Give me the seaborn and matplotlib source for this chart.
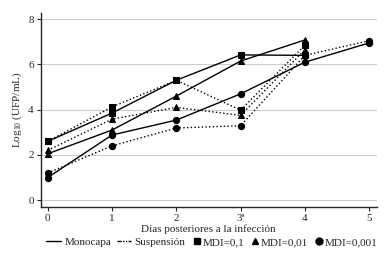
import matplotlib
matplotlib.use("Agg")
import matplotlib.pyplot as plt
from matplotlib.lines import Line2D
import seaborn as sns
import pandas as pd

days = [0, 1, 2, 3, 4, 5]
tick_labels = ["0", "1", "2", "3ª", "4", "5"]

# Monocapa (solid lines)
mono_01 = [2.6, 3.85, 5.3, 6.42, 6.4]
mono_001 = [2.05, 3.1, 4.6, 6.15, 7.08]
mono_0001 = [1.0, 2.88, 3.54, 4.7, 6.1, 6.95]

# Suspensión (dotted lines)
susp_01 = [2.6, 4.12, 5.3, 3.98, 6.85]
susp_001 = [2.2, 3.58, 4.1, 3.75, 6.65]
susp_0001 = [1.2, 2.4, 3.19, 3.29, 6.4, 7.05]

series = [
    ("Monocapa", "MDI=0,1", mono_01),
    ("Monocapa", "MDI=0,01", mono_001),
    ("Monocapa", "MDI=0,001", mono_0001),
    ("Suspensión", "MDI=0,1", susp_01),
    ("Suspensión", "MDI=0,01", susp_001),
    ("Suspensión", "MDI=0,001", susp_0001),
]
markers = {"MDI=0,1": "s", "MDI=0,01": "^", "MDI=0,001": "o"}
lstyles = {"Monocapa": "-", "Suspensión": ":"}

sns.set_style("ticks")
plt.rcParams["font.family"] = ["Liberation Serif", "DejaVu Serif"]
plt.rcParams["mathtext.fontset"] = "custom"
plt.rcParams["mathtext.rm"] = "Liberation Serif"
plt.rcParams["mathtext.it"] = "Liberation Serif:italic"
fs = 8

fig = plt.figure(figsize=(3.87, 2.61), dpi=100)
ax = fig.add_axes([0.105, 0.207, 0.869, 0.743])

for cult, mdi, vals in series:
    df = pd.DataFrame({"Dia": days[:len(vals)], "Log": vals})
    sns.lineplot(data=df, x="Dia", y="Log", ax=ax, color="black",
                 linestyle=lstyles[cult], linewidth=1.0,
                 marker=markers[mdi], markersize=4.5,
                 markeredgecolor="black", markerfacecolor="black")

ax.set_xlim(-0.11, 5.12)
ax.set_ylim(-0.3, 8.27)
ax.set_xticks(days)
ax.set_xticklabels(tick_labels)
ax.set_yticks([0, 2, 4, 6, 8])
ax.yaxis.grid(True, color="#cccccc", linewidth=0.8)
ax.set_axisbelow(True)
sns.despine(ax=ax)
ax.tick_params(axis="both", labelsize=fs, length=3, width=0.8, pad=2)
for s in ["left", "bottom"]:
    ax.spines[s].set_linewidth(1.0)
ax.set_xlabel("Días posteriores a la infección", fontsize=fs, labelpad=1)
ax.set_ylabel("Log$_{\\mathrm{10}}$ (UFP/mL)", fontsize=fs, labelpad=3)

line_handles = [
    Line2D([], [], color="black", linestyle="-", linewidth=1.0),
    Line2D([], [], color="black", linestyle=(0, (3, 1, 1, 1, 1, 1)), linewidth=1.0),
]
mark_handles = [
    Line2D([], [], color="black", linestyle="none", marker="s", markersize=4.5),
    Line2D([], [], color="black", linestyle="none", marker="^", markersize=5),
    Line2D([], [], color="black", linestyle="none", marker="o", markersize=5),
]
leg1 = fig.legend(line_handles, ["Monocapa", "Suspensión"], loc="center left",
                  bbox_to_anchor=(0.12, 0.073), ncol=2, frameon=False,
                  fontsize=fs, handlelength=1.3, handletextpad=0.3,
                  columnspacing=0.5, borderpad=0, borderaxespad=0)
fig.legend(mark_handles, ["MDI=0,1", "MDI=0,01", "MDI=0,001"], loc="center left",
           bbox_to_anchor=(0.5, 0.073), ncol=3, frameon=False,
           fontsize=fs, handlelength=0.6, handletextpad=0.2,
           columnspacing=0.7, borderpad=0, borderaxespad=0)

fig.savefig("out.png", dpi=100)
